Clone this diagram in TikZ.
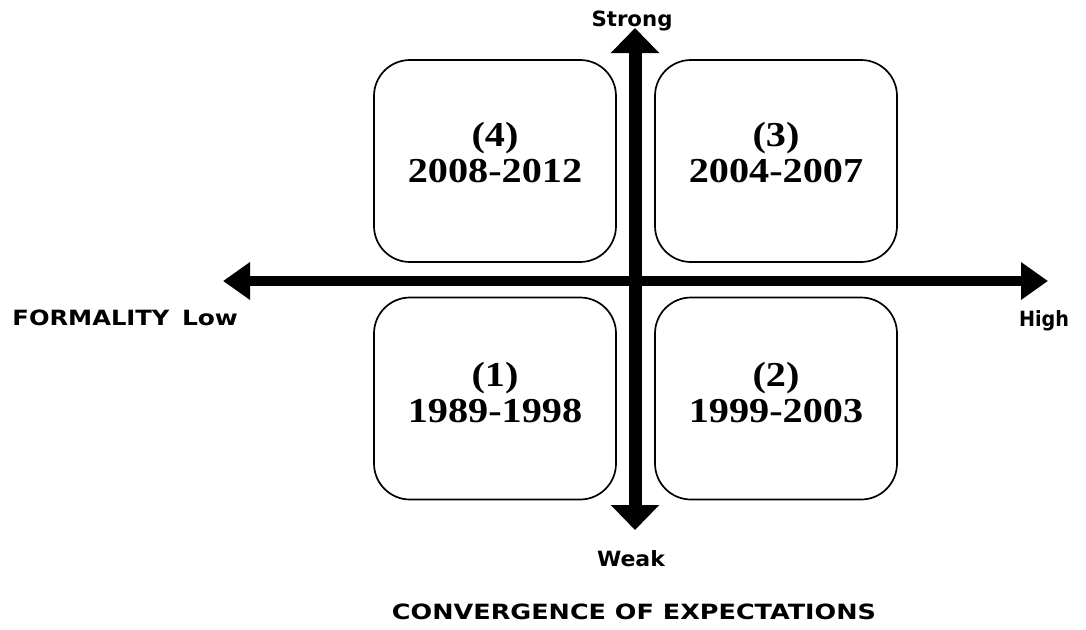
\documentclass[tikz,border=0pt]{standalone}
\usepackage{fontspec}
\usepackage{graphicx}
\setmainfont{Liberation Serif}
\newfontfamily\axisfont{DejaVu Sans}
\usetikzlibrary{arrows.meta}

% stretch a piece of text horizontally to a given width, keeping its height
\newcommand\fitw[2]{\resizebox{#1}{\height}{#2}}
% slightly widened bold serif for the period labels
\newcommand\periodtxt[1]{\scalebox{1.15}[1]{#1}}

\begin{document}
\begin{tikzpicture}[x=1pt,y=-1pt,
  quad/.style={draw, line width=1.7pt, rounded corners=36pt,
    minimum width=242pt, minimum height=202pt, inner sep=0pt},
  period/.style={align=center, inner sep=0pt,
    font=\bfseries\fontsize{35}{36}\selectfont},
  axislbl/.style={anchor=base, inner sep=0pt,
    font=\axisfont\bfseries\fontsize{21}{24}\selectfont},
  vaxis/.style={line width=13pt,
    {Triangle[length=25pt,width=47pt]}-{Triangle[length=25pt,width=47pt]}},
  haxis/.style={line width=10pt,
    {Triangle[length=27pt,width=36pt]}-{Triangle[length=27pt,width=36pt]}}
]
\useasboundingbox (0,0) rectangle (1086,629);

% quadrant frames
\node[quad] (q4) at (495,161) {};
\node[quad] (q3) at (776,161) {};
\node[quad] (q1) at (495,398.5) {};
\node[quad] (q2) at (776,398.5) {};

% period labels
\node[period] (t4) at (495,153) {\periodtxt{(4)}\\\periodtxt{2008-2012}};
\node[period] (t3) at (776,153) {\periodtxt{(3)}\\\periodtxt{2004-2007}};
\node[period] (t1) at (495,393) {\periodtxt{(1)}\\\periodtxt{1989-1998}};
\node[period] (t2) at (776,393) {\periodtxt{(2)}\\\periodtxt{1999-2003}};

% axis end points
\coordinate (north) at (635,28);
\coordinate (south) at (635,530);
\coordinate (west) at (223,281);
\coordinate (east) at (1048,281);

% axes
\draw[haxis] (west) -- (east);
\draw[vaxis] (south) -- (north);

% axis labels
\node[axislbl] (strong) at (632,27) {\fitw{81pt}{Strong}};
\node[axislbl] (weak) at (631,566) {\fitw{68pt}{Weak}};
\node[axislbl] (formality) at (91,325) {\fitw{157pt}{FORMALITY}};
\node[axislbl] (low) at (210,325) {\fitw{56pt}{Low}};
\node[axislbl] (high) at (1044,326) {\fitw{50pt}{High}};
\node[axislbl] (conv) at (634,619) {\fitw{484pt}{CONVERGENCE OF EXPECTATIONS}};
\end{tikzpicture}
\end{document}
